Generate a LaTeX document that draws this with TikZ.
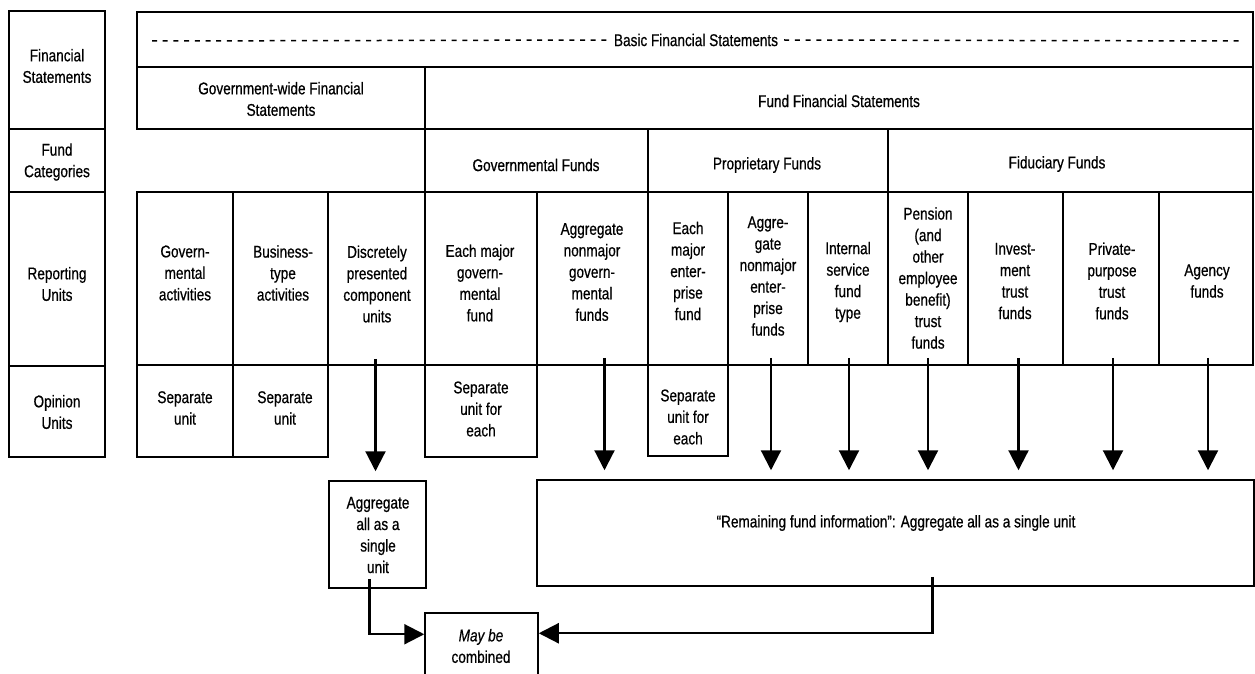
\documentclass[tikz,border=0pt]{standalone}
\usepackage{fontspec}
\setmainfont{Liberation Sans}[FakeStretch=0.80, FakeBold=0.6]
\usetikzlibrary{arrows.meta,calc}
\tikzset{
  cellbox/.style={draw, line width=1.5pt, inner sep=0pt, rectangle},
  txt/.style={align=center, inner sep=0pt},
  arr/.style={line width=2.2pt, -{Triangle[width=20pt,length=20pt]}},
  dashline/.style={line width=1.5pt, dash pattern=on 5pt off 5.7pt},
}
\newcommand\mkcell[5]{\node[cellbox, minimum width={(#4)-(#2)}, minimum height={(#5)-(#3)}] (#1) at ({((#2)+(#4))/2},{((#3)+(#5))/2}) {};}
\begin{document}
\begin{tikzpicture}[x=1pt,y=-1pt, font=\fontsize{17}{21.5}\selectfont]
\useasboundingbox (0,0) rectangle (1255,674);
\clip (0,0) rectangle (1255,674);
% left column
\mkcell{lfs}{9}{11}{105}{129}
\mkcell{lfc}{9}{129}{105}{192}
\mkcell{lru}{9}{192}{105}{366}
\mkcell{lou}{9}{366}{105}{457}
% header rows
\mkcell{bfs}{137}{12}{1253}{67}
\mkcell{gwfs}{137}{67}{425}{129}
\mkcell{ffs}{425}{67}{1253}{129}
\mkcell{gf}{425}{129}{648}{192}
\mkcell{pf}{648}{129}{888}{192}
\mkcell{ff}{888}{129}{1253}{192}
% reporting units
\mkcell{r1}{137}{192}{233}{365}
\mkcell{r2}{233}{192}{328}{365}
\mkcell{r3}{328}{192}{425}{365}
\mkcell{r4}{425}{192}{537}{365}
\mkcell{r5}{537}{192}{648}{365}
\mkcell{r6}{648}{192}{728}{365}
\mkcell{r7}{728}{192}{808}{365}
\mkcell{r8}{808}{192}{888}{365}
\mkcell{r9}{888}{192}{968}{365}
\mkcell{r10}{968}{192}{1063}{365}
\mkcell{r11}{1063}{192}{1159}{365}
\mkcell{r12}{1159}{192}{1253}{365}
% opinion units
\mkcell{o1}{137}{365}{233}{457}
\mkcell{o2}{233}{365}{328}{457}
\mkcell{o4}{425}{365}{537}{457}
\mkcell{o6}{648}{365}{728}{456}
% lower boxes
\mkcell{agg}{329}{481}{426}{588}
\mkcell{rem}{537}{480}{1254}{586}
\mkcell{may}{425}{613}{538}{720}
% texts
\node[txt] (tfs) at (57,66) {Financial\\Statements};
\node[txt] (tfc) at (57,162) {Fund\\Categories};
\node[txt] (tru) at (57,284) {Reporting\\Units};
\node[txt] (tou) at (57,412) {Opinion\\Units};
\node[txt, inner xsep=6pt, inner ysep=2pt] (tbfs) at (696,40) {Basic Financial Statements};
\draw[dashline] (152,41) -- (tbfs.west);
\draw[dashline] (tbfs.east) -- (1240,41);
\node[txt] (tgw) at (281,99) {Government-wide Financial\\Statements};
\node[txt] (tff) at (839,101) {Fund Financial Statements};
\node[txt] (tgf) at (536,165) {Governmental Funds};
\node[txt] (tpf) at (767,165) {Proprietary Funds};
\node[txt] (tfi) at (1057,164) {Fiduciary Funds};
\node[txt] (tr1) at (185,273) {Govern-\\mental\\activities};
\node[txt] (tr2) at (283,273) {Business-\\type\\activities};
\node[txt] (tr3) at (377,284) {Discretely\\presented\\component\\units};
\node[txt] (tr4) at (480,283) {Each major\\govern-\\mental\\fund};
\node[txt] (tr5) at (592,272) {Aggregate\\nonmajor\\govern-\\mental\\funds};
\node[txt] (tr6) at (688,271) {Each\\major\\enter-\\prise\\fund};
\node[txt] (tr7) at (768,276) {Aggre-\\gate\\nonmajor\\enter-\\prise\\funds};
\node[txt] (tr8) at (848,282) {Internal\\service\\fund\\type};
\node[txt] (tr9) at (928,278) {Pension\\(and\\other\\employee\\benefit)\\trust\\funds};
\node[txt] (tr10) at (1015,281) {Invest-\\ment\\trust\\funds};
\node[txt] (tr11) at (1112,281) {Private-\\purpose\\trust\\funds};
\node[txt] (tr12) at (1207,281) {Agency\\funds};
\node[txt] (to1) at (185,408) {Separate\\unit};
\node[txt] (to2) at (285,408) {Separate\\unit};
\node[txt] (to4) at (481,409) {Separate\\unit for\\each};
\node[txt] (to6) at (688,417) {Separate\\unit for\\each};
\node[txt] (tagg) at (378,535) {Aggregate\\all as a\\single\\unit};
\node[txt] (trem) at (896,523) {“Remaining fund information”: Aggregate all as a single unit};
\node[txt] (tmay) at (481,646) {\textit{May be}\\combined};
% arrows
\draw[arr] ($(r3.south)+(-1,-7)$) -- ($(r3.south |- agg.north)+(-1,-9)$);
\draw[arr] ($(r5.south)+(12,-8)$) -- ($(r5.south |- rem.north)+(12,-9)$);
\draw[arr] ($(r7.south)+(3,-8)$) -- ($(r7.south |- rem.north)+(3,-9)$);
\draw[arr] ($(r8.south)+(1,-8)$) -- ($(r8.south |- rem.north)+(1,-9)$);
\draw[arr] ($(r9.south)+(0,-8)$) -- ($(r9.south |- rem.north)+(0,-9)$);
\draw[arr] ($(r10.south)+(3,-8)$) -- ($(r10.south |- rem.north)+(3,-9)$);
\draw[arr] ($(r11.south)+(2,-8)$) -- ($(r11.south |- rem.north)+(2,-9)$);
\draw[arr] ($(r12.south)+(2,-8)$) -- ($(r12.south |- rem.north)+(2,-9)$);
\draw[arr] ($(agg.south)+(-8,-10)$) |- ($(may.north west)+(0,22)$);
\draw[arr] ($(rem.south)+(37,-10)$) |- ($(may.north east)+(0,21)$);
\end{tikzpicture}
\end{document}
